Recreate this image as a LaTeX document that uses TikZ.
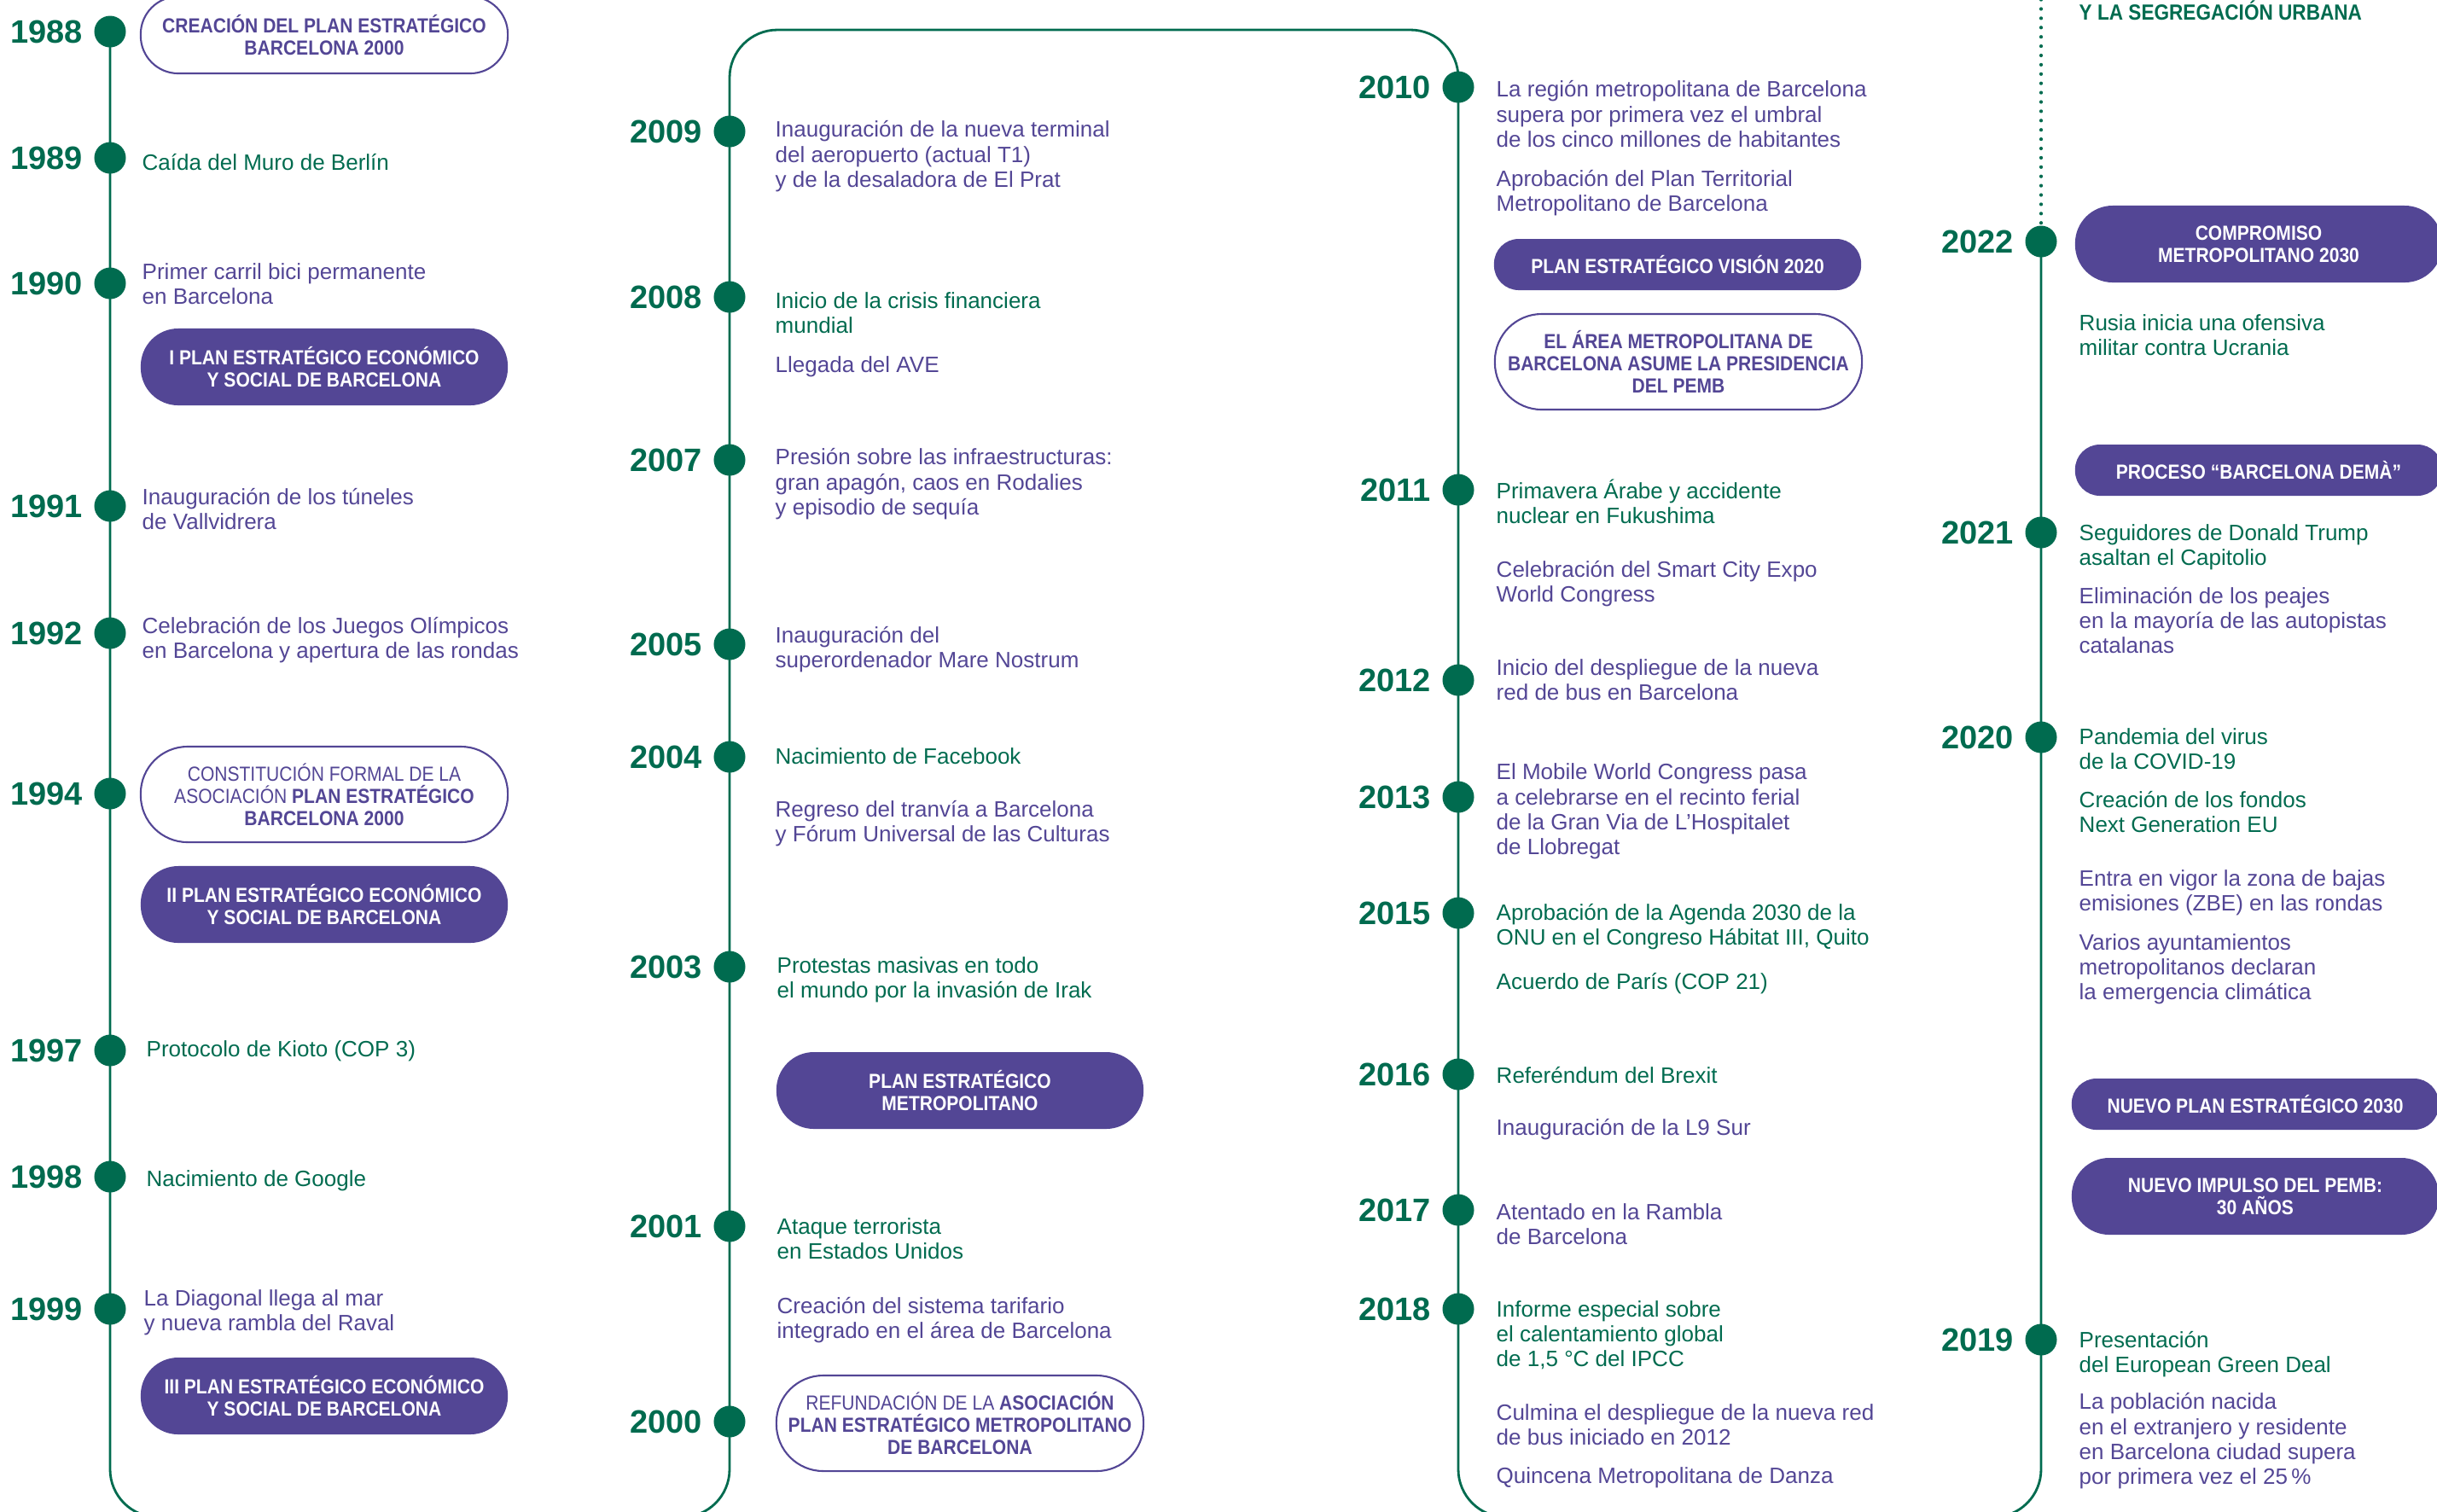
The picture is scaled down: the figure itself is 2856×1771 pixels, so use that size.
\documentclass[tikz,border=0pt]{standalone}
\usepackage{fontspec}
\setmainfont{Liberation Sans}
\newfontfamily\boxfont[FakeStretch=0.88]{Liberation Sans}
\usetikzlibrary{backgrounds}
\definecolor{tgreen}{RGB}{0,107,79}
\definecolor{tpurple}{RGB}{83,70,149}
\tikzset{
  tl/.style={draw=tgreen, line width=0.8pt},
  tdotline/.style={draw=tgreen, line width=1.2pt, line cap=round, dash pattern=on 0pt off 3.1pt},
  tdot/.style={circle, fill=tgreen, minimum size=0.37cm, inner sep=0pt},
  yr/.style={anchor=east, text=tgreen, inner sep=0pt, font=\bfseries\fontsize{10.8}{12}\selectfont},
  ev/.style={anchor=base west, align=left, inner sep=0pt, font=\fontsize{7.4}{8.25}\selectfont},
  evg/.style={ev, text=tgreen},
  evp/.style={ev, text=tpurple},
  pill/.style={rectangle, minimum width=4.3cm, align=center, inner sep=0pt, font=\boxfont\fontsize{6.8}{7.4}\selectfont},
  pillf/.style={pill, fill=tpurple, text=white, font=\boxfont\bfseries\fontsize{6.8}{7.4}\selectfont},
  pillo/.style={pill, draw=tpurple, line width=0.6pt, fill=white, text=tpurple},
  hone/.style={minimum height=0.6cm, rounded corners=0.29cm},
  htwo/.style={minimum height=0.9cm, rounded corners=0.44cm},
  hthree/.style={minimum height=1.12cm, rounded corners=0.55cm},
}
\newcommand\tlyear[3]{%
  \node[tdot] (d#1) at (#2,#3) {};
  \node[yr] (y#1) at ([xshift=-0.12cm]d#1.west) {#1};}
\begin{document}
\begin{tikzpicture}[x=0.01cm, y=-0.01cm]
\useasboundingbox (0,0) rectangle (2856,1771);
\coordinate (bot) at (0,1778);
\coordinate (top) at (0,35);
\coordinate (sky) at (0,-10);
% ---- dots and years
\tlyear{1988}{129}{37}
\tlyear{1989}{129}{185}
\tlyear{1990}{129}{332}
\tlyear{1991}{129}{593}
\tlyear{1992}{129}{742}
\tlyear{1994}{129}{930}
\tlyear{1997}{129}{1231}
\tlyear{1998}{129}{1379}
\tlyear{1999}{129}{1534}
\tlyear{2009}{855}{154}
\tlyear{2008}{855}{348}
\tlyear{2007}{855}{539}
\tlyear{2005}{855}{755}
\tlyear{2004}{855}{887}
\tlyear{2003}{855}{1133}
\tlyear{2001}{855}{1437}
\tlyear{2000}{855}{1666}
\tlyear{2010}{1709}{102}
\tlyear{2011}{1709}{574}
\tlyear{2012}{1709}{797}
\tlyear{2013}{1709}{934}
\tlyear{2015}{1709}{1070}
\tlyear{2016}{1709}{1259}
\tlyear{2017}{1709}{1418}
\tlyear{2018}{1709}{1534}
\tlyear{2022}{2392}{283}
\tlyear{2021}{2392}{624}
\tlyear{2020}{2392}{864}
\tlyear{2019}{2392}{1570}
% ---- timeline
\begin{scope}[on background layer]
\draw[tl, rounded corners=0.56cm] (d1988.center) -- (d1988 |- bot) -- (d2009 |- bot) -- (d2009 |- top) -- (d2010 |- top) -- (d2010 |- bot) -- (d2022 |- bot) -- (d2022.center);
\draw[tdotline] (d2022.center) -- (d2022 |- sky);
\end{scope}
% ---- column 1
\node[pillo, htwo, font=\boxfont\bfseries\fontsize{6.8}{7.4}\selectfont] (p1988) at (380,41) {CREACIÓN DEL PLAN ESTRATÉGICO\\BARCELONA 2000};
\node[evg] (e1989) at (166,199) {Caída del Muro de Berlín};
\node[evp] (e1990) at (166,356) {Primer carril bici permanente\\en Barcelona};
\node[pillf, htwo] (p1990) at (380,430) {I PLAN ESTRATÉGICO ECONÓMICO\\Y SOCIAL DE BARCELONA};
\node[evp] (e1991) at (166,620) {Inauguración de los túneles\\de Vallvidrera};
\node[evp] (e1992) at (166,771) {Celebración de los Juegos Olímpicos\\en Barcelona y apertura de las rondas};
\node[pillo, hthree] (p1994) at (380,931) {CONSTITUCIÓN FORMAL DE LA\\ASOCIACIÓN \textbf{PLAN ESTRATÉGICO}\\\textbf{BARCELONA 2000}};
\node[pillf, htwo] (p1994b) at (380,1060) {II PLAN ESTRATÉGICO ECONÓMICO\\Y SOCIAL DE BARCELONA};
\node[evg] (e1997) at (171,1238) {Protocolo de Kioto (COP 3)};
\node[evg] (e1998) at (171,1390) {Nacimiento de Google};
\node[evp] (e1999) at (168,1559) {La Diagonal llega al mar\\y nueva rambla del Raval};
\node[pillf, htwo] (p1999) at (380,1636) {III PLAN ESTRATÉGICO ECONÓMICO\\Y SOCIAL DE BARCELONA};
% ---- column 2
\node[evp] (e2009) at (908,219) {Inauguración de la nueva terminal\\del aeropuerto (actual T1)\\y de la desaladora de El Prat};
\node[evg] (e2008) at (908,390) {Inicio de la crisis financiera\\mundial};
\node[evp] (e2008b) at (908,436) {Llegada del AVE};
\node[evp] (e2007) at (908,603) {Presión sobre las infraestructuras:\\gran apagón, caos en Rodalies\\y episodio de sequía};
\node[evp] (e2005) at (908,782) {Inauguración del\\superordenador Mare Nostrum};
\node[evg] (e2004) at (908,895) {Nacimiento de Facebook};
\node[evp] (e2004b) at (908,986) {Regreso del tranvía a Barcelona\\y Fórum Universal de las Culturas};
\node[evg] (e2003) at (910,1169) {Protestas masivas en todo\\el mundo por la invasión de Irak};
\node[pillf, htwo] (p2003) at (1125,1278) {PLAN ESTRATÉGICO\\METROPOLITANO};
\node[evg] (e2001) at (910,1475) {Ataque terrorista\\en Estados Unidos};
\node[evp] (e2001b) at (910,1568) {Creación del sistema tarifario\\integrado en el área de Barcelona};
\node[pillo, hthree] (p2000) at (1125,1668) {REFUNDACIÓN DE LA \textbf{ASOCIACIÓN}\\\textbf{PLAN ESTRATÉGICO METROPOLITANO}\\\textbf{DE BARCELONA}};
% ---- column 3
\node[evp] (e2010) at (1753,172) {La región metropolitana de Barcelona\\supera por primera vez el umbral\\de los cinco millones de habitantes};
\node[evp] (e2010b) at (1753,247) {Aprobación del Plan Territorial\\Metropolitano de Barcelona};
\node[pillf, hone] (p2010) at (1966,310) {PLAN ESTRATÉGICO VISIÓN 2020};
\node[pillo, hthree, font=\boxfont\bfseries\fontsize{6.8}{7.4}\selectfont] (p2010b) at (1967,424) {EL ÁREA METROPOLITANA DE\\BARCELONA ASUME LA PRESIDENCIA\\DEL PEMB};
\node[evg] (e2011) at (1753,613) {Primavera Árabe y accidente\\nuclear en Fukushima};
\node[evp] (e2011b) at (1753,705) {Celebración del Smart City Expo\\World Congress};
\node[evp] (e2012) at (1753,820) {Inicio del despliegue de la nueva\\red de bus en Barcelona};
\node[evp] (e2013) at (1753,1001) {El Mobile World Congress pasa\\a celebrarse en el recinto ferial\\de la Gran Via de L’Hospitalet\\de Llobregat};
\node[evg] (e2015) at (1753,1107) {Aprobación de la Agenda 2030 de la\\ONU en el Congreso Hábitat III, Quito};
\node[evg] (e2015b) at (1753,1159) {Acuerdo de París (COP 21)};
\node[evg] (e2016) at (1753,1269) {Referéndum del Brexit};
\node[evp] (e2016b) at (1753,1330) {Inauguración de la L9 Sur};
\node[evp] (e2017) at (1753,1458) {Atentado en la Rambla\\de Barcelona};
\node[evg] (e2018) at (1753,1601) {Informe especial sobre\\el calentamiento global\\de 1,5 °C del IPCC};
\node[evp] (e2018b) at (1753,1693) {Culmina el despliegue de la nueva red\\de bus iniciado en 2012};
\node[evp] (e2018c) at (1753,1738) {Quincena Metropolitana de Danza};
% ---- column 4
\node[anchor=base west, inner sep=0pt, text=tgreen, font=\boxfont\bfseries\fontsize{7.3}{8}\selectfont] (ttop) at (2436,23) {Y LA SEGREGACIÓN URBANA};
\node[pillf, htwo] (p2022) at (2647,286) {COMPROMISO\\METROPOLITANO 2030};
\node[evg] (e2022) at (2436,416) {Rusia inicia una ofensiva\\militar contra Ucrania};
\node[pillf, hone] (p2022b) at (2647,551) {PROCESO “BARCELONA DEMÀ”};
\node[evg] (e2021) at (2436,662) {Seguidores de Donald Trump\\asaltan el Capitolio};
\node[evp] (e2021b) at (2436,765) {Eliminación de los peajes\\en la mayoría de las autopistas\\catalanas};
\node[evg] (e2020) at (2436,901) {Pandemia del virus\\de la COVID-19};
\node[evg] (e2020b) at (2436,975) {Creación de los fondos\\Next Generation EU};
\node[evp] (e2020c) at (2436,1067) {Entra en vigor la zona de bajas\\emisiones (ZBE) en las rondas};
\node[evp] (e2020d) at (2436,1171) {Varios ayuntamientos\\metropolitanos declaran\\la emergencia climática};
\node[pillf, hone] (p2019) at (2643,1294) {NUEVO PLAN ESTRATÉGICO 2030};
\node[pillf, htwo] (p2019b) at (2643,1402) {NUEVO IMPULSO DEL PEMB:\\30 AÑOS};
\node[evg] (e2019) at (2436,1608) {Presentación\\del European Green Deal};
\node[evp] (e2019b) at (2436,1739) {La población nacida\\en el extranjero y residente\\en Barcelona ciudad supera\\por primera vez el 25\,\%};
\end{tikzpicture}
\end{document}
